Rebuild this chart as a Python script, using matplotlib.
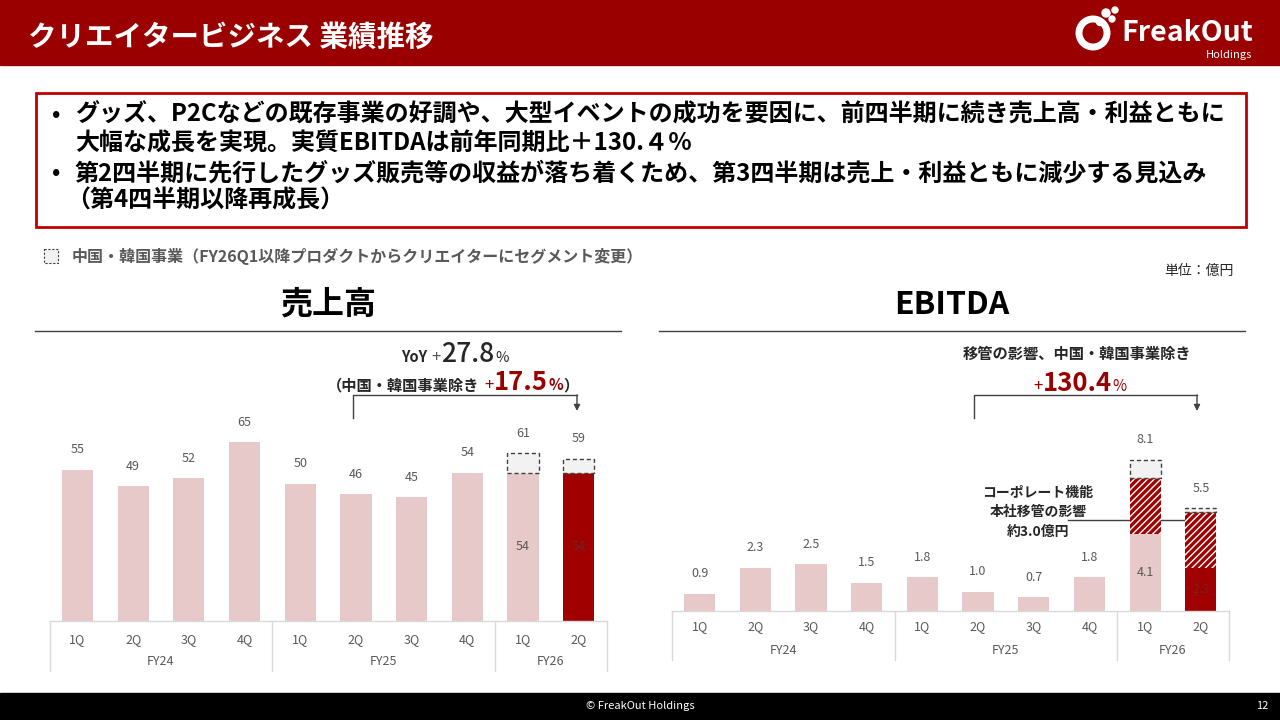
import numpy as np
import matplotlib
matplotlib.use('Agg')
import matplotlib.pyplot as plt
from matplotlib.patches import Rectangle, Circle

# ---- data ----
quarters = ['1Q', '2Q', '3Q', '4Q', '1Q', '2Q', '3Q', '4Q', '1Q', '2Q']
fiscal_years = ['FY24', 'FY25', 'FY26']
fy_counts = [4, 4, 2]

sales_base = [55, 49, 52, 65, 50, 46, 45, 54, 54, 54]
sales_cn_kr = [0, 0, 0, 0, 0, 0, 0, 0, 7, 5]
sales_transfer = [0] * 10

ebitda_base = [0.9, 2.3, 2.5, 1.5, 1.8, 1.0, 0.7, 1.8, 4.1, 2.3]
ebitda_transfer = [0, 0, 0, 0, 0, 0, 0, 0, 3.0, 3.0]
ebitda_cn_kr = [0, 0, 0, 0, 0, 0, 0, 0, 1.0, 0.2]

plt.rcParams['font.family'] = ['Noto Sans CJK JP', 'DejaVu Sans']
plt.rcParams['hatch.linewidth'] = 1.0

RED = '#9B0000'
BAR_RED = '#A00000'
PINK = '#E8C9C9'
GRAY_TXT = '#595959'
DARK = '#262626'
AXIS_GRAY = '#D9D9D9'

W, H = 1280, 720
fig = plt.figure(figsize=(12.8, 7.2), dpi=100)
page = fig.add_axes([0, 0, 1, 1])
page.set_xlim(0, W)
page.set_ylim(H, 0)
page.axis('off')

# header / footer
page.add_patch(Rectangle((0, 0), W, 65, color=RED, zorder=0))
page.text(28, 38, 'クリエイタービジネス 業績推移', color='white', fontsize=20.5,
          fontweight='bold', va='center')
page.add_patch(Circle((1093, 33), 14, facecolor='none', edgecolor='white', lw=5))
for cx, cy, r in [(1106, 13, 4), (1115, 10, 3), (1112, 19, 3), (1100, 22, 3.5)]:
    page.add_patch(Circle((cx, cy), r, color='white'))
page.text(1121, 33, 'FreakOut', color='white', fontsize=20.5, fontweight='bold', va='center')
page.text(1252, 55, 'Holdings', color='white', fontsize=8, ha='right', va='center')

page.add_patch(Rectangle((0, 693), W, 27, color='black', zorder=0))
page.text(640, 706, '© FreakOut Holdings', color='white', fontsize=8, ha='center', va='center')
page.text(1262, 706, '12', color='white', fontsize=8, ha='center', va='center')

# summary box
page.add_patch(Rectangle((36, 93), 1210, 134, facecolor='none', edgecolor='#C00000', lw=2))
lines = [
    (52, 75, 115, '•', 'グッズ、P2Cなどの既存事業の好調や、大型イベントの成功を要因に、前四半期に続き売上高・利益ともに'),
    (None, 75, 144, None, '大幅な成長を実現。実質EBITDAは前年同期比＋130.４％'),
    (52, 75, 173, '•', '第2四半期に先行したグッズ販売等の収益が落ち着くため、第3四半期は売上・利益ともに減少する見込み'),
    (None, 66, 201, None, '（第4四半期以降再成長）'),
]
for bx, tx, ty, b, s in lines:
    if b:
        page.text(bx, ty, b, fontsize=16, fontweight='bold', va='center', color='black')
    page.text(tx, ty, s, fontsize=17.3, fontweight='bold', va='center', color='black')

# legend note
page.add_patch(Rectangle((44, 249), 14, 14, facecolor='#F2F2F2', edgecolor='#404040',
                         lw=0.8, linestyle=(0, (2, 1.5))))
page.text(72, 256, '中国・韓国事業（FY26Q1以降プロダクトからクリエイターにセグメント変更）',
          fontsize=11.5, fontweight='bold', color=GRAY_TXT, va='center')
page.text(1234, 271, '単位：億円', fontsize=10, color=DARK, ha='right', va='center')

# section titles
page.text(328, 305, '売上高', fontsize=23, fontweight='bold', ha='center', va='center', color='black')
page.text(952, 305, 'EBITDA', fontsize=23, fontweight='bold', ha='center', va='center', color='black')
page.plot([35, 621], [331, 331], color='#404040', lw=1)
page.plot([659, 1245], [331, 331], color='#404040', lw=1)


def runs(x, y, parts):
    r = fig.canvas.get_renderer()
    texts, widths = [], []
    for s, size, color, weight, gap in parts:
        t = page.text(0, y, s, fontsize=size, color=color, fontweight=weight, va='baseline', ha='left')
        texts.append(t)
        widths.append(t.get_window_extent(r).width + gap)
    cur = x - sum(widths) / 2
    for t, w in zip(texts, widths):
        t.set_x(cur)
        cur += w


def bracket(x0, x1, y_low, y_top, y_arrow):
    page.plot([x0, x0, x1], [y_low, y_top, y_top], color='#404040', lw=1)
    page.annotate('', xy=(x1, y_arrow), xytext=(x1, y_top),
                  arrowprops=dict(arrowstyle='-|>', color='#404040', lw=1, mutation_scale=9,
                                  shrinkA=0, shrinkB=0))


runs(455, 362, [('YoY', 10.5, DARK, 'bold', 4), ('+', 12, GRAY_TXT, 'normal', 0),
                ('27.8', 19, DARK, 'medium', 1), ('%', 10.5, DARK, 'normal', 0)])
runs(453, 390, [('（中国・韓国事業除き', 11, DARK, 'bold', 5), ('+', 12, RED, 'normal', 0),
                ('17.5', 18.5, RED, 'bold', 1), ('%', 11, RED, 'bold', 0), ('）', 11, DARK, 'bold', 0)])
bracket(353, 577, 418, 395, 411)

runs(1077, 359, [('移管の影響、中国・韓国事業除き', 11, DARK, 'bold', 0)])
runs(1080, 391, [('+', 12, RED, 'normal', 0), ('130.4', 18.5, RED, 'bold', 1), ('%', 11, RED, 'normal', 0)])
bracket(974, 1197, 418, 395, 411)

page.text(1038, 512, 'コーポレート機能\n本社移管の影響\n約3.0億円', fontsize=10, fontweight='bold',
          color=DARK, ha='center', va='center', linespacing=1.5)


def bar_chart(left, right, baseline, top, scale, base, hatch_part, dash_part, fmt,
              inner_idx, q_off, fy_off, bot_off):
    hpx = baseline - top
    ax = fig.add_axes([left / W, 1 - baseline / H, (right - left) / W, hpx / H])
    ax.set_xlim(-0.5, 9.5)
    ax.set_ylim(0, hpx / scale)
    ax.axis('off')
    ax.patch.set_alpha(0)
    x = np.arange(len(base))
    base = np.array(base, dtype=float)
    hatch_part = np.array(hatch_part, dtype=float)
    dash_part = np.array(dash_part, dtype=float)
    colors = [PINK] * (len(base) - 1) + [BAR_RED]
    ax.bar(x, base, width=0.56, color=colors, zorder=2)
    m = hatch_part > 0
    ax.bar(x[m], hatch_part[m], bottom=base[m], width=0.56, facecolor=BAR_RED,
           edgecolor='white', hatch='/////', linewidth=0, zorder=2)
    m2 = dash_part > 0
    ax.bar(x[m2], dash_part[m2], bottom=(base + hatch_part)[m2], width=0.56, facecolor='#F2F2F2',
           edgecolor='#404040', linestyle=(0, (3, 2)), linewidth=1, zorder=3)
    totals = base + hatch_part + dash_part
    for i, v in enumerate(totals):
        ax.annotate(fmt.format(v), xy=(i, v), xytext=(0, 20), textcoords='offset pixels',
                    ha='center', va='center', fontsize=9, color=GRAY_TXT)
    for i in inner_idx:
        c = GRAY_TXT if i < len(base) - 1 else '#6e2626'
        ax.text(i, base[i] / 2, fmt.format(base[i]), ha='center', va='center', fontsize=9, color=c, zorder=4)
    # category axis
    tr = ax.get_xaxis_transform()
    ax.plot([-0.5, 9.5], [0, 0], color=AXIS_GRAY, lw=1, transform=tr, clip_on=False)
    edges = np.concatenate([[0], np.cumsum(fy_counts)]) - 0.5
    for e in edges:
        ax.plot([e, e], [0, -bot_off / hpx], color=AXIS_GRAY, lw=1, transform=tr, clip_on=False)
    for i, q in enumerate(quarters):
        ax.text(i, -q_off / hpx, q, transform=tr, ha='center', va='center', fontsize=9, color=GRAY_TXT)
    for k, fy in enumerate(fiscal_years):
        ax.text((edges[k] + edges[k + 1]) / 2, -fy_off / hpx, fy, transform=tr,
                ha='center', va='center', fontsize=9, color=GRAY_TXT)
    return ax


bar_chart(49.6, 606.6, 620.5, 340, 2.74, sales_base, sales_transfer, sales_cn_kr, '{:.0f}',
          [8, 9], 19, 41, 50)
bar_chart(671.7, 1228.7, 610.5, 340, 18.6, ebitda_base, ebitda_transfer, ebitda_cn_kr, '{:.1f}',
          [8, 9], 16.5, 40, 49)
page.plot([1068, 1188], [520, 520], color='#404040', lw=1, zorder=5)

fig.savefig('out.png', dpi=100)
